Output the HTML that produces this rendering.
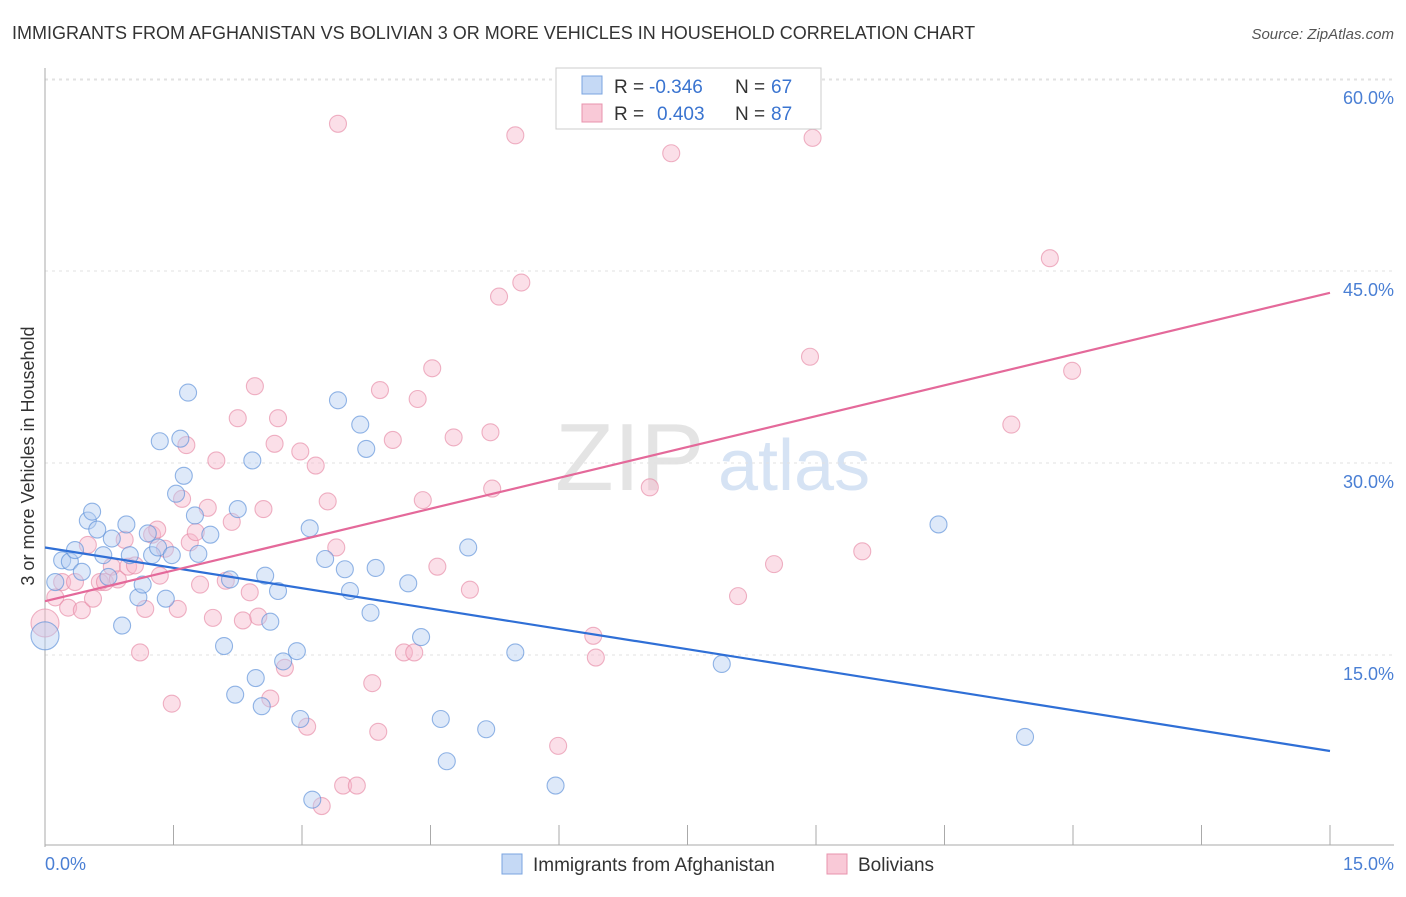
<!DOCTYPE html>
<html><head><meta charset="utf-8"><style>
body{margin:0;background:#fff;font-family:"Liberation Sans",sans-serif;}
svg text{font-family:"Liberation Sans",sans-serif;}
</style></head><body>
<svg width="1406" height="892" viewBox="0 0 1406 892">
<text x="12" y="39" font-size="18" fill="#333">IMMIGRANTS FROM AFGHANISTAN VS BOLIVIAN 3 OR MORE VEHICLES IN HOUSEHOLD CORRELATION CHART</text>
<text x="1394" y="39" font-size="15" fill="#555" font-style="italic" text-anchor="end">Source: ZipAtlas.com</text>
<text x="555" y="490" font-size="96" fill="#e4e4e4" font-family="Liberation Serif">ZIP</text>
<text x="718" y="490" font-size="72" fill="#d6e3f4">atlas</text>
<g id="grid"></g><g id="axes"></g><g id="pts"></g><g id="lines"></g>
<text transform="translate(34,456) rotate(-90)" font-size="18" fill="#333" text-anchor="middle">3 or more Vehicles in Household</text>
<text x="45" y="870" font-size="18" fill="#4a7fd4">0.0%</text>
<text x="1394" y="870" font-size="18" fill="#4a7fd4" text-anchor="end">15.0%</text>
<g>
<rect x="556" y="68" width="265" height="61" fill="#fff" stroke="#ccc"/>
<rect x="582" y="76" width="20" height="18" fill="#c5d9f5" stroke="#7aa4e0"/>
<rect x="582" y="104" width="20" height="18" fill="#f9c9d7" stroke="#e893ad"/>
<text x="614" y="93" font-size="19" fill="#333">R =</text>
<text x="649" y="93" font-size="19" fill="#3a74d0">-0.346</text>
<text x="735" y="93" font-size="19" fill="#333">N =</text>
<text x="771" y="93" font-size="19" fill="#3a74d0">67</text>
<text x="614" y="120" font-size="19" fill="#333">R =</text>
<text x="657" y="120" font-size="19" fill="#3a74d0">0.403</text>
<text x="735" y="120" font-size="19" fill="#333">N =</text>
<text x="771" y="120" font-size="19" fill="#3a74d0">87</text>
</g>
<g>
<rect x="502" y="854" width="20" height="20" fill="#c5d9f5" stroke="#7aa4e0"/>
<text x="533" y="871" font-size="19" fill="#333">Immigrants from Afghanistan</text>
<rect x="827" y="854" width="20" height="20" fill="#f9c9d7" stroke="#e893ad"/>
<text x="858" y="871" font-size="19" fill="#333">Bolivians</text>
</g>
</svg>
<script>
const yTicks=[15,30,45,60];
const xTicks=[0,1.5,3,4.5,6,7.5,9,10.5,12,13.5,15];
const blueX=[0,0.12,0.2,0.29,0.35,0.43,0.5,0.55,0.61,0.68,0.74,0.78,0.9,0.95,0.99,1.09,1.14,1.2,1.25,1.32,1.34,1.41,1.48,1.53,1.58,1.62,1.67,1.75,1.79,1.93,2.09,2.16,2.22,2.25,2.42,2.46,2.53,2.57,2.63,2.72,2.78,2.94,2.98,3.09,3.12,3.27,3.42,3.5,3.56,3.68,3.75,3.8,3.86,4.24,4.39,4.62,4.69,4.94,5.15,5.49,5.96,7.9,10.43,11.44];
const blueY=[16.5,20.7,22.4,22.3,23.2,21.5,25.5,26.2,24.8,22.8,21.1,24.1,17.3,25.2,22.8,19.5,20.5,24.5,22.8,23.4,31.7,19.4,22.8,27.6,31.9,29.0,35.5,25.9,22.9,24.4,15.7,20.9,11.9,26.4,30.2,13.2,11.0,21.2,17.6,20.0,14.5,15.3,10.0,24.9,3.7,22.5,34.9,21.7,20.0,33.0,31.1,18.3,21.8,20.6,16.4,10.0,6.7,23.4,9.2,15.2,4.8,14.3,25.2,8.6];
const pinkX=[0,0.12,0.2,0.27,0.35,0.43,0.5,0.56,0.64,0.7,0.78,0.85,0.93,0.97,1.05,1.11,1.17,1.25,1.31,1.34,1.4,1.48,1.55,1.6,1.65,1.69,1.76,1.81,1.9,1.96,2.0,2.11,2.18,2.25,2.31,2.39,2.45,2.49,2.55,2.63,2.68,2.72,2.8,2.98,3.06,3.16,3.23,3.3,3.4,3.42,3.48,3.64,3.82,3.89,3.91,4.06,4.19,4.31,4.35,4.41,4.52,4.58,4.77,4.96,5.2,5.22,5.3,5.49,5.56,5.99,6.4,6.43,7.06,7.31,8.09,8.51,8.93,8.96,9.54,11.28,11.73,11.99];
const pinkY=[17.5,19.5,20.7,18.7,20.7,18.5,23.6,19.4,20.7,20.7,21.9,20.9,24.0,21.9,22.0,15.2,18.6,24.4,24.8,21.2,23.3,11.2,18.6,27.2,31.4,23.8,24.6,20.5,26.5,17.9,30.2,20.8,25.4,33.5,17.7,19.9,36.0,18.0,26.4,11.6,31.5,33.5,14.0,30.9,9.4,29.8,3.2,27.0,23.4,56.5,4.8,4.8,12.8,9.0,35.7,31.8,15.2,15.2,35.0,27.1,37.4,21.9,32.0,20.1,32.4,28.0,43.0,55.6,44.1,7.9,16.5,14.8,28.1,54.2,19.6,22.1,38.3,55.4,23.1,33.0,46.0,37.2];
const blueFit=[23.4,7.5];
const pinkFit=[19.2,43.3];
const NS='http://www.w3.org/2000/svg';
const X0=45,X1=1330,Y0=847,YS=192/15;
function sx(v){return X0+(X1-X0)*v/15;}
function sy(v){return Y0-v*YS;}
function mk(t,a,p){const e=document.createElementNS(NS,t);for(const k in a)e.setAttribute(k,a[k]);p.appendChild(e);return e;}
const grid=document.getElementById('grid'),axes=document.getElementById('axes'),pts=document.getElementById('pts'),lines=document.getElementById('lines');
yTicks.forEach(t=>{
 const l=mk('line',{x1:X0,x2:1394,y1:sy(t),y2:sy(t),stroke:'#e2e2e2','stroke-dasharray':'3,4'},grid);
 
 
 const tx=mk('text',{x:1394,y:sy(t)+25,'font-size':18,fill:'#4a7fd4','text-anchor':'end'},grid);
 tx.textContent=t.toFixed(1)+'%';
 
 
});
const topLine=mk('line',{x1:X0,x2:1394,y1:80,y2:80,stroke:'#e2e2e2','stroke-dasharray':'3,4'},grid);


const ya=mk('line',{x1:X0,x2:X0,y1:68,y2:847,stroke:'#aaa'},axes);


const xa=mk('line',{x1:X0,x2:1394,y1:845,y2:845,stroke:'#aaa'},axes);


xTicks.forEach(t=>{
 const l=mk('line',{x1:sx(t),x2:sx(t),y1:825,y2:845,stroke:'#aaa'},axes);
 
 
});
function dots(xs,ys,fill,stroke,name){
 xs.forEach((x,i)=>{
  if(ys[i]===undefined)return;
  const r=i===0?14:8.5;
  const c=mk('circle',{cx:sx(x),cy:sy(ys[i]),r:r,fill:fill,'fill-opacity':0.45,stroke:stroke,'stroke-opacity':0.65,'stroke-width':1.1},pts);
  
  
 });
}
dots(pinkX,pinkY,'#f6b8cb','#e68aa6','bolivian-point');
dots(blueX,blueY,'#b5cff2','#5b8fd9','afghanistan-point');
const bl=mk('line',{x1:sx(0),y1:sy(blueFit[0]),x2:sx(15),y2:sy(blueFit[1]),stroke:'#2f6fd6','stroke-width':2.2},lines);


const pl=mk('line',{x1:sx(0),y1:sy(pinkFit[0]),x2:sx(15),y2:sy(pinkFit[1]),stroke:'#e4699a','stroke-width':2.2},lines);


</script>
</body></html>
